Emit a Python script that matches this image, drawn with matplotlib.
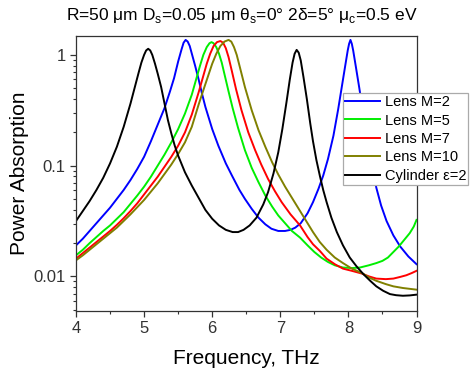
import matplotlib
matplotlib.use("Agg")
import numpy as np
import matplotlib.pyplot as plt
from matplotlib.ticker import LogLocator, FixedLocator, FixedFormatter, NullFormatter

plt.rcParams["font.family"] = ["Liberation Sans", "DejaVu Sans"]
plt.rcParams["mathtext.fontset"] = "custom"
plt.rcParams["mathtext.rm"] = "Liberation Sans"

# values, kept as decades (log10 of power absorption)
# Cylinder eps=2 (black)
f_cyl = [4.00, 4.10, 4.20, 4.30, 4.40, 4.50, 4.60, 4.70, 4.80, 4.86, 4.92, 4.96, 5.00, 5.03,
         5.06, 5.09, 5.12, 5.16, 5.20, 5.25, 5.30, 5.35, 5.40, 5.45, 5.50, 5.60, 5.70, 5.80,
         5.90, 6.00, 6.10, 6.20, 6.30, 6.38, 6.46, 6.55, 6.65, 6.75, 6.82, 6.90, 6.97, 7.03,
         7.09, 7.14, 7.18, 7.21, 7.24, 7.27, 7.30, 7.34, 7.39, 7.44, 7.48, 7.53, 7.58, 7.63,
         7.68, 7.75, 7.83, 7.92, 8.02, 8.12, 8.22, 8.32, 8.41, 8.51, 8.61, 8.70, 8.80, 8.90, 9.00]
lg_cyl = [-1.50, -1.41, -1.32, -1.22, -1.11, -0.98, -0.83, -0.65, -0.44, -0.30, -0.16, -0.07,
          0.00, 0.04, 0.055, 0.04, 0.00, -0.08, -0.17, -0.29, -0.44, -0.59, -0.71, -0.82, -0.91,
          -1.06, -1.18, -1.29, -1.40, -1.48, -1.54, -1.58, -1.60, -1.60, -1.58, -1.54, -1.47,
          -1.35, -1.24, -1.07, -0.88, -0.67, -0.43, -0.22, -0.07, 0.01, 0.045, 0.02, -0.05,
          -0.20, -0.40, -0.62, -0.78, -0.95, -1.09, -1.22, -1.33, -1.47, -1.60, -1.72, -1.83,
          -1.91, -1.98, -2.04, -2.09, -2.13, -2.16, -2.17, -2.175, -2.172, -2.165]

# Lens M=2 (blue)
f_m2 = [4.00, 4.10, 4.20, 4.30, 4.40, 4.50, 4.60, 4.70, 4.80, 4.90, 5.00, 5.10, 5.20, 5.30,
        5.38, 5.44, 5.50, 5.55, 5.58, 5.61, 5.64, 5.67, 5.71, 5.75, 5.80, 5.85, 5.90, 6.00,
        6.09, 6.20, 6.29, 6.40, 6.48, 6.58, 6.68, 6.78, 6.87, 6.97, 7.07, 7.15, 7.22, 7.30,
        7.40, 7.48, 7.56, 7.63, 7.70, 7.78, 7.85, 7.90, 7.95, 7.99, 8.01, 8.03, 8.05, 8.07,
        8.11, 8.16, 8.21, 8.28, 8.35, 8.41, 8.48, 8.56, 8.66, 8.76, 8.88, 9.00]
lg_m2 = [-1.72, -1.66, -1.59, -1.52, -1.45, -1.38, -1.30, -1.22, -1.13, -1.03, -0.92, -0.78,
         -0.63, -0.48, -0.33, -0.21, -0.06, 0.05, 0.11, 0.135, 0.12, 0.08, -0.01, -0.10, -0.22,
         -0.35, -0.47, -0.67, -0.82, -0.98, -1.09, -1.22, -1.30, -1.39, -1.47, -1.53, -1.57,
         -1.59, -1.59, -1.58, -1.56, -1.52, -1.43, -1.33, -1.21, -1.09, -0.94, -0.73, -0.49,
         -0.30, -0.11, 0.04, 0.10, 0.135, 0.10, 0.04, -0.11, -0.30, -0.50, -0.75, -1.02, -1.20,
         -1.36, -1.50, -1.63, -1.73, -1.82, -1.89]

# Lens M=5 (green)
f_m5 = [4.00, 4.10, 4.20, 4.30, 4.40, 4.50, 4.60, 4.70, 4.80, 4.90, 5.00, 5.10, 5.20, 5.30,
        5.40, 5.50, 5.60, 5.70, 5.76, 5.82, 5.87, 5.92, 5.96, 5.99, 6.02, 6.06, 6.10, 6.14,
        6.19, 6.24, 6.30, 6.38, 6.48, 6.58, 6.68, 6.78, 6.88, 6.97, 7.07, 7.17, 7.29, 7.40,
        7.50, 7.60, 7.70, 7.80, 7.92, 8.05, 8.17, 8.30, 8.41, 8.50, 8.58, 8.66, 8.74, 8.82,
        8.90, 8.96, 9.00]
lg_m5 = [-1.81, -1.76, -1.70, -1.645, -1.59, -1.54, -1.48, -1.42, -1.345, -1.27, -1.19, -1.10,
         -1.00, -0.90, -0.79, -0.67, -0.53, -0.36, -0.23, -0.10, 0.00, 0.07, 0.105, 0.115, 0.105,
         0.07, 0.01, -0.07, -0.20, -0.33, -0.48, -0.66, -0.86, -1.02, -1.15, -1.27, -1.37,
         -1.45, -1.52, -1.59, -1.65, -1.72, -1.78, -1.83, -1.87, -1.90, -1.92, -1.925, -1.92,
         -1.90, -1.88, -1.86, -1.83, -1.78, -1.73, -1.67, -1.61, -1.55, -1.49]

# Lens M=7 (red)
f_m7 = [4.00, 4.10, 4.20, 4.30, 4.40, 4.50, 4.60, 4.70, 4.80, 4.90, 5.00, 5.10, 5.20, 5.30,
        5.40, 5.50, 5.60, 5.70, 5.80, 5.86, 5.92, 5.97, 6.02, 6.07, 6.12, 6.16, 6.20, 6.24,
        6.29, 6.35, 6.43, 6.53, 6.63, 6.72, 6.82, 6.92, 7.02, 7.15, 7.29, 7.40, 7.48, 7.58,
        7.68, 7.80, 7.92, 8.05, 8.20, 8.30, 8.41, 8.55, 8.66, 8.76, 8.85, 8.93, 9.00]
lg_m7 = [-1.84, -1.79, -1.74, -1.69, -1.64, -1.59, -1.535, -1.475, -1.41, -1.34, -1.26, -1.18,
         -1.10, -1.01, -0.92, -0.82, -0.70, -0.54, -0.34, -0.21, -0.08, 0.01, 0.08, 0.115,
         0.125, 0.11, 0.06, -0.02, -0.15, -0.31, -0.50, -0.70, -0.86, -0.99, -1.12, -1.23,
         -1.33, -1.44, -1.54, -1.645, -1.71, -1.77, -1.84, -1.89, -1.93, -1.95, -1.975, -2.00,
         -2.02, -2.025, -2.02, -2.005, -1.99, -1.97, -1.95]

# Lens M=10 (olive)
f_m10 = [4.00, 4.10, 4.20, 4.30, 4.40, 4.50, 4.60, 4.70, 4.80, 4.90, 5.00, 5.10, 5.20, 5.30,
         5.40, 5.50, 5.60, 5.70, 5.80, 5.88, 5.94, 6.00, 6.06, 6.12, 6.18, 6.24, 6.28, 6.32,
         6.36, 6.41, 6.48, 6.58, 6.68, 6.78, 6.88, 6.97, 7.07, 7.17, 7.29, 7.40, 7.48, 7.58,
         7.68, 7.80, 7.92, 8.05, 8.20, 8.30, 8.41, 8.55, 8.66, 8.80, 9.00]
lg_m10 = [-1.855, -1.81, -1.76, -1.71, -1.66, -1.61, -1.56, -1.50, -1.44, -1.375, -1.31,
          -1.235, -1.16, -1.075, -0.99, -0.895, -0.79, -0.65, -0.45, -0.30, -0.19, -0.08, 0.01,
          0.08, 0.12, 0.135, 0.12, 0.07, 0.00, -0.12, -0.29, -0.50, -0.68, -0.83, -0.97, -1.08,
          -1.19, -1.29, -1.41, -1.52, -1.60, -1.69, -1.76, -1.83, -1.88, -1.93, -1.97, -2.01,
          -2.04, -2.07, -2.09, -2.105, -2.12]

SERIES = [
    (f_m2, lg_m2, "#0000ff", "Lens M=2"),
    (f_m5, lg_m5, "#00ee00", "Lens M=5"),
    (f_m7, lg_m7, "#ff0000", "Lens M=7"),
    (f_m10, lg_m10, "#808000", "Lens M=10"),
    (f_cyl, lg_cyl, "#000000", "Cylinder \u03b5=2"),
]

fig = plt.figure(figsize=(4.7, 3.74), dpi=100)
ax = fig.add_axes([0.1617, 0.1693, 0.7245, 0.7344])

for f, lg, col, lab in SERIES:
    ax.plot(f, np.power(10.0, lg), color=col, lw=1.4, label=lab)

ax.set_yscale("log")
ax.set_xlim(4, 9)
ax.set_ylim(0.0049, 1.48)
ax.set_xticks([4, 5, 6, 7, 8, 9])
ax.set_xticks([4.5, 5.5, 6.5, 7.5, 8.5], minor=True)
ax.yaxis.set_major_locator(FixedLocator([0.01, 0.1, 1]))
ax.yaxis.set_major_formatter(FixedFormatter(["0.01", "0.1", "1"]))
ax.yaxis.set_minor_locator(LogLocator(base=10, subs=range(2, 10)))
ax.yaxis.set_minor_formatter(NullFormatter())
ax.tick_params(which="major", direction="out", length=4, width=0.9, labelsize=12, colors="#333333")
ax.tick_params(which="minor", direction="out", length=2.5, width=0.8, colors="#333333")
for s in ax.spines.values():
    s.set_linewidth(0.9)
    s.set_color("#333333")

ax.set_xlabel("Frequency, THz", fontsize=15, labelpad=9)
ax.set_ylabel("Power Absorption", fontsize=15, labelpad=3)
fig.text(0.515, 0.958, "R=50 \u03bcm D$_\\mathrm{s}$=0.05 \u03bcm \u03b8$_\\mathrm{s}$=0\u00b0 2\u03b4=5\u00b0 \u03bc$_\\mathrm{c}$=0.5 eV",
         ha="center", va="center", fontsize=12.5)

leg = ax.legend(loc="upper left", bbox_to_anchor=(343 / 470, 1 - 93 / 374), bbox_transform=fig.transFigure,
                fontsize=10.5, frameon=True, fancybox=False, borderpad=0.15, labelspacing=0.3,
                handlelength=2.4, handletextpad=0.3, borderaxespad=0)
leg.get_frame().set_edgecolor("#aaaaaa")
leg.get_frame().set_linewidth(0.9)
leg.get_frame().set_alpha(1)

fig.savefig("out.png", dpi=100)
